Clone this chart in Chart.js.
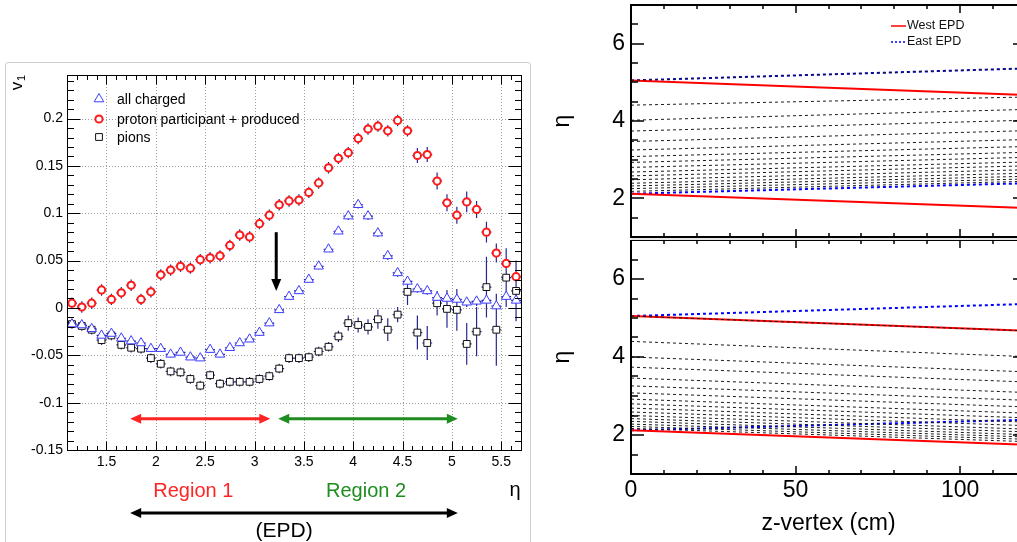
<!DOCTYPE html>
<html>
<head>
<meta charset="utf-8">
<script src="https://cdn.jsdelivr.net/npm/chart.js@4.4.1/dist/chart.umd.min.js"></script>
<style>
body { margin: 0; width: 1017px; height: 542px; overflow: hidden; background: #fff; position: relative; }
#frame { position: absolute; left: 5px; top: 62px; width: 524px; height: 500px; border: 1px solid #cfcfcf; border-radius: 3px; }
#gap { position: absolute; left: 631px; top: 237px; width: 386px; height: 3px; background: #e6e6e6; }
canvas { position: absolute; }
</style>
</head>
<body>
<div id="frame"></div>
<div id="gap"></div>
<canvas id="v1Chart" width="540" height="480" style="left:0;top:62px"></canvas>
<canvas id="topChart" width="490" height="240" style="left:540px;top:0"></canvas>
<canvas id="botChart" width="490" height="302" style="left:540px;top:240px"></canvas>
<script>
const family = '"Liberation Sans", Arial, Helvetica, sans-serif';

// ---- left plot: v1 vs eta ----
const etaBins = [1.15, 1.25, 1.35, 1.45, 1.55, 1.65, 1.75, 1.85, 1.95, 2.05,
  2.15, 2.25, 2.35, 2.45, 2.55, 2.65, 2.75, 2.85, 2.95, 3.05,
  3.15, 3.25, 3.35, 3.45, 3.55, 3.65, 3.75, 3.85, 3.95, 4.05,
  4.15, 4.25, 4.35, 4.45, 4.55, 4.65, 4.75, 4.85, 4.95, 5.05,
  5.15, 5.25, 5.35, 5.45, 5.55, 5.65];

const allCharged = [-0.017, -0.018, -0.022, -0.029, -0.027, -0.032, -0.035, -0.037, -0.043, -0.043,
  -0.049, -0.047, -0.052, -0.053, -0.044, -0.049, -0.042, -0.037, -0.033, -0.026,
  -0.016, -0.002, 0.012, 0.018, 0.030, 0.044, 0.062, 0.081, 0.097, 0.109,
  0.097, 0.079, 0.055, 0.037, 0.028, 0.020, 0.018, 0.011, 0.010, 0.009,
  0.006, 0.007, 0.008, 0.002, 0.012, 0.008];
const allChargedErr = [0.003, 0.003, 0.003, 0.003, 0.003, 0.003, 0.003, 0.003, 0.003, 0.003,
  0.003, 0.003, 0.003, 0.003, 0.003, 0.003, 0.003, 0.003, 0.003, 0.003,
  0.003, 0.003, 0.003, 0.003, 0.003, 0.003, 0.003, 0.003, 0.004, 0.004,
  0.004, 0.004, 0.004, 0.004, 0.004, 0.004, 0.004, 0.004, 0.005, 0.005,
  0.005, 0.005, 0.005, 0.005, 0.005, 0.005];

const protonPP = [0.005, 0.001, 0.005, 0.019, 0.009, 0.016, 0.024, 0.009, 0.017, 0.035,
  0.040, 0.044, 0.042, 0.051, 0.053, 0.055, 0.066, 0.077, 0.075, 0.089,
  0.098, 0.109, 0.113, 0.114, 0.122, 0.132, 0.148, 0.158, 0.164, 0.179,
  0.189, 0.192, 0.187, 0.198, 0.187, 0.161, 0.162, 0.134, 0.111, 0.098,
  0.112, 0.104, 0.080, 0.058, 0.047, 0.033];
const protonErr = [0.006, 0.006, 0.006, 0.006, 0.006, 0.006, 0.006, 0.006, 0.006, 0.006,
  0.006, 0.006, 0.006, 0.006, 0.006, 0.006, 0.006, 0.006, 0.006, 0.006,
  0.006, 0.006, 0.006, 0.006, 0.006, 0.006, 0.006, 0.006, 0.006, 0.006,
  0.006, 0.006, 0.006, 0.006, 0.006, 0.008, 0.008, 0.009, 0.009, 0.009,
  0.011, 0.009, 0.011, 0.010, 0.010, 0.012];

const pions = [-0.017, -0.019, -0.023, -0.034, -0.029, -0.039, -0.042, -0.043, -0.053, -0.059,
  -0.067, -0.068, -0.075, -0.082, -0.071, -0.080, -0.078, -0.078, -0.078, -0.075,
  -0.072, -0.064, -0.053, -0.053, -0.052, -0.046, -0.041, -0.030, -0.016, -0.018,
  -0.020, -0.012, -0.023, -0.007, 0.017, -0.026, -0.037, 0.005, -0.001, -0.002,
  -0.038, -0.025, 0.022, -0.023, 0.032, 0.018];
const pionsErr = [0.005, 0.005, 0.005, 0.005, 0.005, 0.005, 0.005, 0.005, 0.005, 0.005,
  0.005, 0.005, 0.005, 0.005, 0.005, 0.005, 0.005, 0.005, 0.005, 0.005,
  0.005, 0.005, 0.005, 0.005, 0.005, 0.005, 0.005, 0.006, 0.008, 0.008,
  0.008, 0.010, 0.012, 0.008, 0.014, 0.018, 0.018, 0.013, 0.020, 0.022,
  0.022, 0.026, 0.032, 0.038, 0.031, 0.032];

const etaTicks = [1.5, 2, 2.5, 3, 3.5, 4, 4.5, 5, 5.5];
const v1Ticks = [-0.15, -0.1, -0.05, 0, 0.05, 0.1, 0.15, 0.2];

// annotation positions (eta / v1 units)
const region1 = [1.74, 3.16];
const region2 = [3.24, 5.06];
const regionY = -0.117;
const epdRange = [1.74, 5.06];
const markArrow = { x: 3.22, from: 0.080, to: 0.018 };

// ---- right plots: eta vs z-vertex ----
const zVertex = [0, 120];
const westOuter = [5.05, 4.67];
const westInner = [2.12, 1.75];
const eastOuter = [5.05, 5.36];
const eastInner = [2.12, 2.39];
const eastRingsStart = [5.05, 4.41, 4.02, 3.74, 3.47, 3.25, 3.08, 2.93, 2.80, 2.68, 2.58, 2.48, 2.39, 2.32, 2.25, 2.18];
const eastRingsEnd = [5.36, 4.62, 4.30, 4.02, 3.75, 3.52, 3.34, 3.19, 3.06, 2.94, 2.84, 2.74, 2.65, 2.57, 2.50, 2.44];
const westRingsStart = [5.05, 4.40, 4.00, 3.74, 3.46, 3.26, 3.08, 2.92, 2.80, 2.69, 2.59, 2.50, 2.42, 2.35, 2.28, 2.22, 2.17];
const westRingsEnd = [4.67, 4.01, 3.62, 3.36, 3.09, 2.89, 2.72, 2.56, 2.44, 2.33, 2.24, 2.15, 2.08, 2.01, 1.95, 1.89, 1.83];
const zTicks = [0, 50, 100];
const etaAxisTicks = [2, 4, 6];

function pts(vals) {
  return vals.map((v, i) => ({ x: etaBins[i], y: v }));
}
function linePts(a, b) {
  return [{ x: zVertex[0], y: a }, { x: zVertex[1], y: b }];
}

function seg(ctx, x1, y1, x2, y2) {
  ctx.moveTo(x1, y1);
  ctx.lineTo(x2, y2);
}

function hArrow(ctx, x1, x2, y, color) {
  const h = 11, w = 5;
  ctx.strokeStyle = color;
  ctx.fillStyle = color;
  ctx.lineWidth = 3;
  ctx.beginPath();
  seg(ctx, x1 + h - 2, y, x2 - h + 2, y);
  ctx.stroke();
  ctx.beginPath();
  ctx.moveTo(x1, y); ctx.lineTo(x1 + h, y - w); ctx.lineTo(x1 + h, y + w); ctx.closePath();
  ctx.moveTo(x2, y); ctx.lineTo(x2 - h, y - w); ctx.lineTo(x2 - h, y + w); ctx.closePath();
  ctx.fill();
}

function marker(ctx, style, x, y, color) {
  ctx.strokeStyle = color;
  ctx.fillStyle = '#fff';
  ctx.beginPath();
  if (style === 'triangle') {
    ctx.lineWidth = 1;
    ctx.moveTo(x, y - 5.5); ctx.lineTo(x + 4.8, y + 2.8); ctx.lineTo(x - 4.8, y + 2.8); ctx.closePath();
  } else if (style === 'circle') {
    ctx.lineWidth = 2;
    ctx.arc(x, y, 3.6, 0, Math.PI * 2);
  } else {
    ctx.lineWidth = 1;
    ctx.rect(x - 3.4, y - 3.4, 6.8, 6.8);
  }
  ctx.fill();
  ctx.stroke();
}

const v1Decor = {
  id: 'v1Decor',
  beforeDatasetsDraw(chart) {
    const { ctx, chartArea: a, scales: { x, y } } = chart;
    ctx.save();
    ctx.beginPath();
    ctx.rect(a.left, a.top, a.right - a.left, a.bottom - a.top);
    ctx.clip();
    // dotted grid
    ctx.strokeStyle = '#9c9c9c';
    ctx.lineWidth = 1;
    ctx.setLineDash([1, 2]);
    ctx.beginPath();
    etaTicks.forEach(v => {
      const px = Math.round(x.getPixelForValue(v)) + 0.5;
      seg(ctx, px, a.top, px, a.bottom);
    });
    v1Ticks.forEach(v => {
      const py = Math.round(y.getPixelForValue(v)) + 0.5;
      seg(ctx, a.left, py, a.right, py);
    });
    ctx.stroke();
    ctx.setLineDash([]);
    // error bars
    ctx.strokeStyle = '#262690';
    ctx.lineWidth = 1.2;
    ctx.beginPath();
    chart.data.datasets.forEach(ds => {
      ds.data.forEach((p, i) => {
        const px = x.getPixelForValue(p.x);
        const py = y.getPixelForValue(p.y);
        seg(ctx, px, y.getPixelForValue(p.y - ds.errY[i]), px, y.getPixelForValue(p.y + ds.errY[i]));
        seg(ctx, x.getPixelForValue(p.x - 0.05), py, x.getPixelForValue(p.x + 0.05), py);
      });
    });
    ctx.stroke();
    ctx.restore();
  },
  afterDatasetsDraw(chart) {
    const { ctx, chartArea: a, scales: { x, y } } = chart;
    ctx.save();
    ctx.strokeStyle = '#000';
    ctx.lineWidth = 1;
    const l = Math.round(a.left) + 0.5, r = Math.round(a.right) + 0.5;
    const t = Math.round(a.top) + 0.5, b = Math.round(a.bottom) + 0.5;
    ctx.strokeRect(l, t, r - l, b - t);
    ctx.beginPath();
    for (let k = 11; k <= 57; k++) {
      const px = Math.round(x.getPixelForValue(k / 10)) + 0.5;
      const len = k % 5 === 0 ? 9 : 4.5;
      seg(ctx, px, b, px, b - len);
      seg(ctx, px, t, px, t + len);
    }
    for (let k = -15; k <= 24; k++) {
      const py = Math.round(y.getPixelForValue(k / 100)) + 0.5;
      const len = k % 5 === 0 ? 13 : 6.5;
      seg(ctx, l, py, l + len, py);
      seg(ctx, r, py, r - len, py);
    }
    ctx.stroke();

    // black arrow pointing down
    const ax = x.getPixelForValue(markArrow.x);
    const ay1 = y.getPixelForValue(markArrow.from), ay2 = y.getPixelForValue(markArrow.to);
    ctx.strokeStyle = '#000';
    ctx.fillStyle = '#000';
    ctx.lineWidth = 3;
    ctx.beginPath();
    seg(ctx, ax, ay1, ax, ay2 - 10);
    ctx.stroke();
    ctx.beginPath();
    ctx.moveTo(ax, ay2); ctx.lineTo(ax - 5, ay2 - 12); ctx.lineTo(ax + 5, ay2 - 12); ctx.closePath();
    ctx.fill();

    // region arrows
    const ry = y.getPixelForValue(regionY);
    hArrow(ctx, x.getPixelForValue(region1[0]), x.getPixelForValue(region1[1]), ry, '#ff2424');
    hArrow(ctx, x.getPixelForValue(region2[0]), x.getPixelForValue(region2[1]), ry, '#1e8c1e');

    // legend
    const items = [['triangle', '#3c3cff', 'all charged', 37], ['circle', '#ff1a1a', 'proton participant + produced', 57], ['rect', '#111', 'pions', 75]];
    ctx.font = '14px ' + family;
    ctx.textAlign = 'left';
    ctx.textBaseline = 'middle';
    items.forEach(it => {
      marker(ctx, it[0], 99, it[3], it[1]);
      ctx.fillStyle = '#000';
      ctx.fillText(it[2], 117, it[3] + 1);
    });
    ctx.restore();
  },
  afterDraw(chart) {
    const { ctx, scales: { x } } = chart;
    ctx.save();
    ctx.textAlign = 'center';
    ctx.textBaseline = 'middle';
    ctx.font = '20px ' + family;
    ctx.fillStyle = '#ff2424';
    ctx.fillText('Region 1', x.getPixelForValue(2.38), 429);
    ctx.fillStyle = '#1e8c1e';
    ctx.fillText('Region 2', x.getPixelForValue(4.13), 429);
    ctx.fillStyle = '#000';
    ctx.fillText('η', x.getPixelForValue(5.64), 428);
    hArrow(ctx, x.getPixelForValue(epdRange[0]), x.getPixelForValue(epdRange[1]), 451, '#000');
    ctx.fillStyle = '#000';
    ctx.font = '21px ' + family;
    ctx.fillText('(EPD)', x.getPixelForValue(3.30), 469);
    // y title v1, rotated
    ctx.translate(17.5, 24);
    ctx.rotate(-Math.PI / 2);
    ctx.font = '17px ' + family;
    ctx.fillText('v', 0, 0);
    ctx.font = '11px ' + family;
    ctx.fillText('1', 8, 4);
    ctx.restore();
  }
};

new Chart(document.getElementById('v1Chart'), {
  type: 'scatter',
  data: {
    datasets: [
      { label: 'proton participant + produced', data: pts(protonPP), errY: protonErr,
        pointStyle: 'circle', pointRadius: 3.6, pointBorderWidth: 2,
        pointBorderColor: '#ff1a1a', pointBackgroundColor: '#fff' },
      { label: 'all charged', data: pts(allCharged), errY: allChargedErr,
        pointStyle: 'triangle', pointRadius: 5.5, pointBorderWidth: 1,
        pointBorderColor: '#3c3cff', pointBackgroundColor: '#fff' },
      { label: 'pions', data: pts(pions), errY: pionsErr,
        pointStyle: 'rect', pointRadius: 4.8, pointBorderWidth: 1,
        pointBorderColor: '#111', pointBackgroundColor: '#fff' }
    ]
  },
  options: {
    responsive: false,
    animation: false,
    events: [],
    layout: { padding: { top: 13, right: 19, left: 0, bottom: 0 } },
    plugins: { legend: { display: false }, tooltip: { enabled: false } },
    scales: {
      x: {
        type: 'linear', min: 1.1, max: 5.7,
        grid: { display: false, drawTicks: false }, border: { display: false },
        afterBuildTicks: s => { s.ticks = etaTicks.map(v => ({ value: v })); },
        afterFit: s => { s.height = 92; s.paddingLeft = 0; s.paddingRight = 0; },
        ticks: { padding: 4, color: '#000', font: { family: family, size: 14 }, maxRotation: 0, autoSkip: false,
          callback: v => String(v) }
      },
      y: {
        type: 'linear', min: -0.15, max: 0.246,
        grid: { display: false, drawTicks: false }, border: { display: false },
        afterBuildTicks: s => { s.ticks = v1Ticks.map(v => ({ value: v })); },
        afterFit: s => { s.width = 67; s.paddingTop = 0; s.paddingBottom = 0; },
        ticks: { padding: 4, color: '#000', font: { family: family, size: 14 }, autoSkip: false,
          callback: v => String(v) }
      }
    }
  },
  plugins: [v1Decor]
});

const epdDecor = {
  id: 'epdDecor',
  afterDatasetsDraw(chart, args, opts) {
    const { ctx, chartArea: a, scales: { x, y } } = chart;
    ctx.save();
    ctx.strokeStyle = '#000';
    ctx.lineWidth = 2;
    ctx.strokeRect(a.left, a.top, a.right - a.left, a.bottom - a.top);
    ctx.lineWidth = 1.5;
    ctx.beginPath();
    for (let k = 0; k <= 12; k++) {
      const px = Math.round(x.getPixelForValue(k * 10));
      const len = k % 5 === 0 ? 8 : 4;
      seg(ctx, px, a.bottom, px, a.bottom - len);
      seg(ctx, px, a.top, px, a.top + len);
    }
    for (let k = 2; k <= 14; k++) {
      const py = Math.round(y.getPixelForValue(k / 2));
      const len = k % 4 === 0 ? 13 : 7;
      seg(ctx, a.left, py, a.left + len, py);
      seg(ctx, a.right, py, a.right - len, py);
    }
    ctx.stroke();
    if (opts.legend) {
      ctx.font = '12.5px ' + family;
      ctx.textAlign = 'left';
      ctx.textBaseline = 'middle';
      ctx.fillStyle = '#111';
      ctx.lineWidth = 1.5;
      ctx.strokeStyle = '#ff0000';
      ctx.beginPath(); seg(ctx, 351, 26, 366, 26); ctx.stroke();
      ctx.fillText('West EPD', 367, 26);
      ctx.strokeStyle = '#0000ff';
      ctx.setLineDash([2, 2]);
      ctx.beginPath(); seg(ctx, 351, 42, 366, 42); ctx.stroke();
      ctx.setLineDash([]);
      ctx.fillText('East EPD', 367, 42);
    }
    ctx.restore();
  }
};

function epdChart(id, ringStart, ringEnd, isBottom, showLegend) {
  const rings = ringStart.map((s, i) => ({
    data: linePts(s, ringEnd[i]), borderColor: '#1a1a1a', borderWidth: 1, borderDash: [3, 3]
  }));
  return new Chart(document.getElementById(id), {
    type: 'line',
    data: {
      datasets: rings.concat([
        { label: 'West EPD', data: linePts(westOuter[0], westOuter[1]), borderColor: '#ff0000', borderWidth: 2 },
        { data: linePts(westInner[0], westInner[1]), borderColor: '#ff0000', borderWidth: 2 },
        { label: 'East EPD', data: linePts(eastOuter[0], eastOuter[1]), borderColor: '#0000ff', borderWidth: 2, borderDash: [3, 3] },
        { data: linePts(eastInner[0], eastInner[1]), borderColor: '#0000ff', borderWidth: 2, borderDash: [3, 3] }
      ])
    },
    options: {
      responsive: false,
      animation: false,
      events: [],
      layout: { padding: { top: isBottom ? 0 : 5, right: 4, left: 0, bottom: 0 } },
      elements: { point: { radius: 0 }, line: { tension: 0 } },
      plugins: { legend: { display: false }, tooltip: { enabled: false }, epdDecor: { legend: showLegend } },
      scales: {
        x: {
          type: 'linear', min: 0, max: 120,
          grid: { display: false, drawTicks: false }, border: { display: false },
          afterBuildTicks: s => { s.ticks = zTicks.map(v => ({ value: v })); },
          afterFit: s => { s.height = isBottom ? 68 : 3; s.paddingLeft = 0; s.paddingRight = 0; },
          ticks: { display: isBottom, padding: 3, color: '#000', font: { family: family, size: 23 }, maxRotation: 0, autoSkip: false,
            callback: v => String(v) },
          title: { display: isBottom, text: 'z-vertex (cm)', color: '#000', font: { family: family, size: 23 }, padding: { top: 0, bottom: 5 } }
        },
        y: {
          type: 'linear', min: 1, max: 7,
          grid: { display: false, drawTicks: false }, border: { display: false },
          afterBuildTicks: s => { s.ticks = etaAxisTicks.map(v => ({ value: v })); },
          afterFit: s => { s.width = 91; s.paddingTop = 0; s.paddingBottom = 0; },
          ticks: { padding: 6, color: '#000', font: { family: family, size: 23 }, autoSkip: false,
            callback: v => String(v) },
          title: { display: true, text: 'η', color: '#000', font: { family: family, size: 23 }, padding: { top: 9, bottom: 0 } }
        }
      }
    },
    plugins: [epdDecor]
  });
}

epdChart('topChart', eastRingsStart, eastRingsEnd, false, true);
epdChart('botChart', westRingsStart, westRingsEnd, true, false);
</script>
</body>
</html>
